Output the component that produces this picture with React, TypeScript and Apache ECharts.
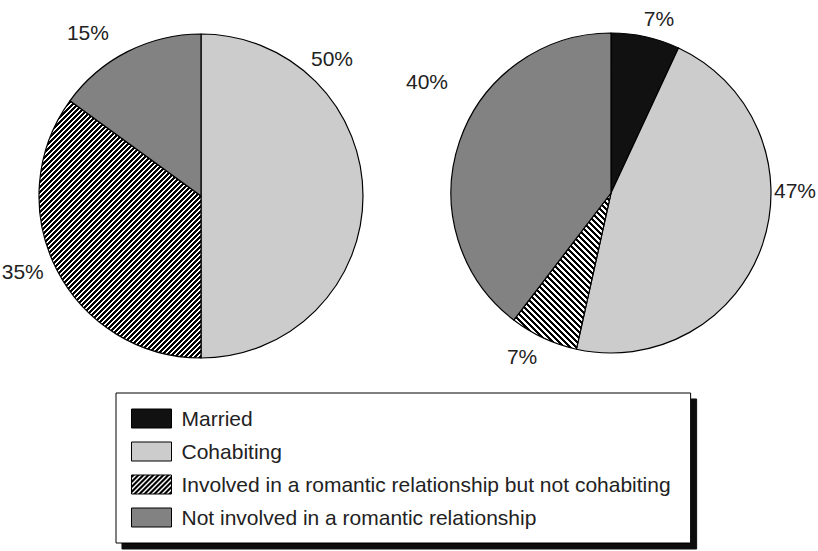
import React, { useEffect, useRef } from "react";
import * as echarts from "echarts";

// Relationship status categories (legend order)
const categories = [
  "Married",
  "Cohabiting",
  "Involved in a romantic relationship but not cohabiting",
  "Not involved in a romantic relationship",
];

// Percentages for each pie, in category order (0 = not present)
const leftValues = [0, 50, 35, 15];
const rightValues = [7, 47, 7, 40];

// Small nudges for the percentage labels, per pie and category
const leftLabelOffsets: number[][] = [[0, 0], [-67, -138], [1, -3], [-9, -10]];
const rightLabelOffsets: number[][] = [[-9, -9], [-3, -57], [3, 9], [3, -57]];

// Builds a small tile of diagonal black/white stripes.
// dir = 1 gives "/" stripes, dir = -1 gives "\" stripes.
function stripeTile(dir: number, period: number, ink: number): HTMLCanvasElement {
  const c = document.createElement("canvas");
  c.width = period;
  c.height = period;
  const ctx = c.getContext("2d")!;
  ctx.fillStyle = "#ffffff";
  ctx.fillRect(0, 0, period, period);
  ctx.fillStyle = "#000000";
  for (let y = 0; y < period; y++) {
    for (let x = 0; x < period; x++) {
      const k = dir > 0 ? (x + y) % period : (((x - y) % period) + period) % period;
      if (k < ink) ctx.fillRect(x, y, 1, 1);
    }
  }
  return c;
}

export default function App() {
  const ref = useRef<HTMLDivElement>(null);

  useEffect(() => {
    if (!ref.current) return;
    const chart = echarts.init(ref.current, undefined, { renderer: "svg" });

    const fills = (dir: number, period: number): any[] => [
      "#111111",
      "#cccccc",
      { image: stripeTile(dir, period, Math.ceil(period / 2)), repeat: "repeat" },
      "#828282",
    ];

    const buildData = (values: number[], dir: number, period: number, offsets: number[][]) => {
      const f = fills(dir, period);
      return values
        .map((v, i) => ({
          name: categories[i],
          value: v,
          itemStyle: { color: f[i] },
          label: { offset: offsets[i] },
        }))
        .filter((d) => d.value > 0);
    };

    const baseSeries = {
      type: "pie",
      startAngle: 90,
      clockwise: true,
      avoidLabelOverlap: false,
      itemStyle: { borderColor: "#000", borderWidth: 1.2 },
      label: {
        show: true,
        position: "outside",
        formatter: "{c}%",
        fontFamily: "Liberation Sans, Arial, sans-serif",
        fontSize: 21,
        color: "#222",
      },
      labelLine: { show: false, length: 10, length2: 0 },
      emphasis: { disabled: true },
    };

    chart.setOption({
      animation: false,
      backgroundColor: "#ffffff",
      legend: {
        orient: "vertical",
        left: 116,
        top: 393,
        data: categories,
        icon: "rect",
        itemWidth: 40,
        itemHeight: 19,
        itemGap: 12,
        selectedMode: false,
        padding: [15, 20, 15, 15],
        backgroundColor: "#ffffff",
        borderColor: "#000",
        borderWidth: 1,
        shadowColor: "#111",
        shadowBlur: 0,
        shadowOffsetX: 6,
        shadowOffsetY: 6,
        itemStyle: { borderColor: "#000", borderWidth: 1 },
        textStyle: {
          fontFamily: "Liberation Sans, Arial, sans-serif",
          fontSize: 21,
          color: "#222",
          lineHeight: 19,
          padding: [0, 0, 0, 5],
        },
      },
      series: [
        {
          ...baseSeries,
          name: "left",
          center: [201, 196],
          radius: 162,
          data: buildData(leftValues, 1, 5, leftLabelOffsets),
        },
        {
          ...baseSeries,
          name: "right",
          center: [611, 193],
          radius: 160,
          data: buildData(rightValues, -1, 6, rightLabelOffsets),
        },
      ],
    });

    return () => chart.dispose();
  }, []);

  return (
    <div
      ref={ref}
      style={{ position: "fixed", left: 0, top: 0, width: 818, height: 551 }}
    />
  );
}
